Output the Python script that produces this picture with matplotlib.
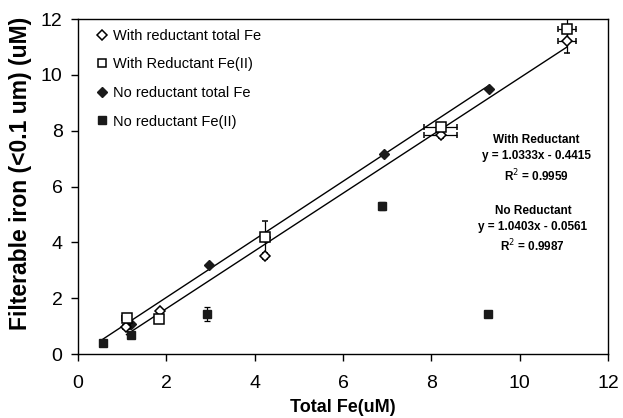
import numpy as np
import matplotlib.pyplot as plt
from matplotlib.lines import Line2D

plt.rcParams['font.family'] = ['Liberation Sans', 'DejaVu Sans']

# With reductant total Fe (open diamond)
wr_tot_x = [1.10, 1.86, 4.23, 8.21, 11.07]
wr_tot_y = [0.98, 1.54, 3.51, 7.85, 11.20]
wr_tot_xerr = [0.08, 0.0, 0.0, 0.38, 0.21]
wr_tot_yerr = [0.0, 0.0, 0.1, 0.1, 0.42]

# With reductant Fe(II) (open square)
wr_fe2_x = [1.11, 1.83, 4.23, 8.21, 11.07]
wr_fe2_y = [1.28, 1.25, 4.18, 8.12, 11.63]
wr_fe2_xerr = [0.1, 0.0, 0.0, 0.38, 0.21]
wr_fe2_yerr = [0.0, 0.0, 0.6, 0.1, 0.46]

# No reductant total Fe (filled diamond)
nr_tot_x = [1.21, 2.96, 4.23, 6.93, 9.31]
nr_tot_y = [1.07, 3.19, 4.18, 7.16, 9.49]

# No reductant Fe(II) (filled square)
nr_fe2_x = [0.57, 1.20, 2.93, 6.89, 9.28]
nr_fe2_y = [0.38, 0.68, 1.42, 5.30, 1.44]
nr_fe2_yerr = [0.0, 0.1, 0.25, 0.15, 0.0]

# linear fits as printed on the chart
fit_wr = (1.0333, -0.4415)
fit_wr_x = [1.10, 11.07]
fit_nr = (1.0403, -0.0561)
fit_nr_x = [0.57, 9.31]

fig = plt.figure(figsize=(6.23, 4.18), dpi=100)
ax = fig.add_axes([0.125, 0.153, 0.851, 0.8015])

for (m, b), xs in [(fit_wr, fit_wr_x), (fit_nr, fit_nr_x)]:
    xs = np.array(xs)
    ax.plot(xs, m * xs + b, color='black', lw=1.0, zorder=1)

dark = '#1a1a1a'
ebkw = dict(ecolor='black', elinewidth=0.9, capsize=2.5, capthick=0.9, ls='none')
ax.errorbar(nr_fe2_x, nr_fe2_y, yerr=nr_fe2_yerr, fmt='s', ms=6,
            mfc=dark, mec=dark, zorder=3, **ebkw)
ax.errorbar(nr_tot_x, nr_tot_y, fmt='D', ms=5,
            mfc=dark, mec=dark, zorder=3, **ebkw)
ax.errorbar(wr_tot_x, wr_tot_y, xerr=wr_tot_xerr, yerr=wr_tot_yerr, fmt='D', ms=5.5,
            mfc='white', mec='black', mew=1.1, zorder=4, **ebkw)
ax.errorbar(wr_fe2_x, wr_fe2_y, xerr=wr_fe2_xerr, yerr=wr_fe2_yerr, fmt='s', ms=6.5,
            mfc='white', mec='black', mew=1.1, zorder=4, **ebkw)

handles = [
    Line2D([], [], ls='none', marker='D', ms=5, mfc='white', mec='black', mew=1.1),
    Line2D([], [], ls='none', marker='s', ms=5.5, mfc='white', mec='black', mew=1.1),
    Line2D([], [], ls='none', marker='D', ms=5, mfc=dark, mec=dark),
    Line2D([], [], ls='none', marker='s', ms=5.5, mfc=dark, mec=dark),
]
labels = ['With reductant total Fe', 'With Reductant Fe(II)',
          'No reductant total Fe', 'No reductant Fe(II)']
ax.legend(handles, labels, loc='upper left', frameon=False, fontsize=10.5,
          handlelength=0.6, handletextpad=0.45, labelspacing=1.0,
          bbox_to_anchor=(0.012, 1.01))

ax.text(10.38, 6.98, 'With Reductant\ny = 1.0333x - 0.4415\nR$^2$ = 0.9959',
        ha='center', va='center', fontsize=8.5, fontweight='bold', linespacing=1.4)
ax.text(10.3, 4.45, 'No Reductant\ny = 1.0403x - 0.0561\nR$^2$ = 0.9987',
        ha='center', va='center', fontsize=8.5, fontweight='bold', linespacing=1.4)

ax.set_xlim(0, 12)
ax.set_ylim(0, 12)
ax.set_xticks(range(0, 13, 2))
ax.set_yticks(range(0, 13, 2))
ax.tick_params(direction='out', length=5, width=1, labelsize=14, top=False, right=False)
ax.tick_params(axis='x', pad=10)
ax.tick_params(axis='y', pad=6)
for s in ax.spines.values():
    s.set_linewidth(1.0)
ax.set_xlabel('Total Fe(uM)', fontsize=13, fontweight='bold', labelpad=5)
ax.set_ylabel('Filterable iron (<0.1 um) (uM)', fontsize=16.5, fontweight='bold')
ax.yaxis.set_label_coords(-0.087, 0.54)

fig.savefig('out.png', dpi=100)
